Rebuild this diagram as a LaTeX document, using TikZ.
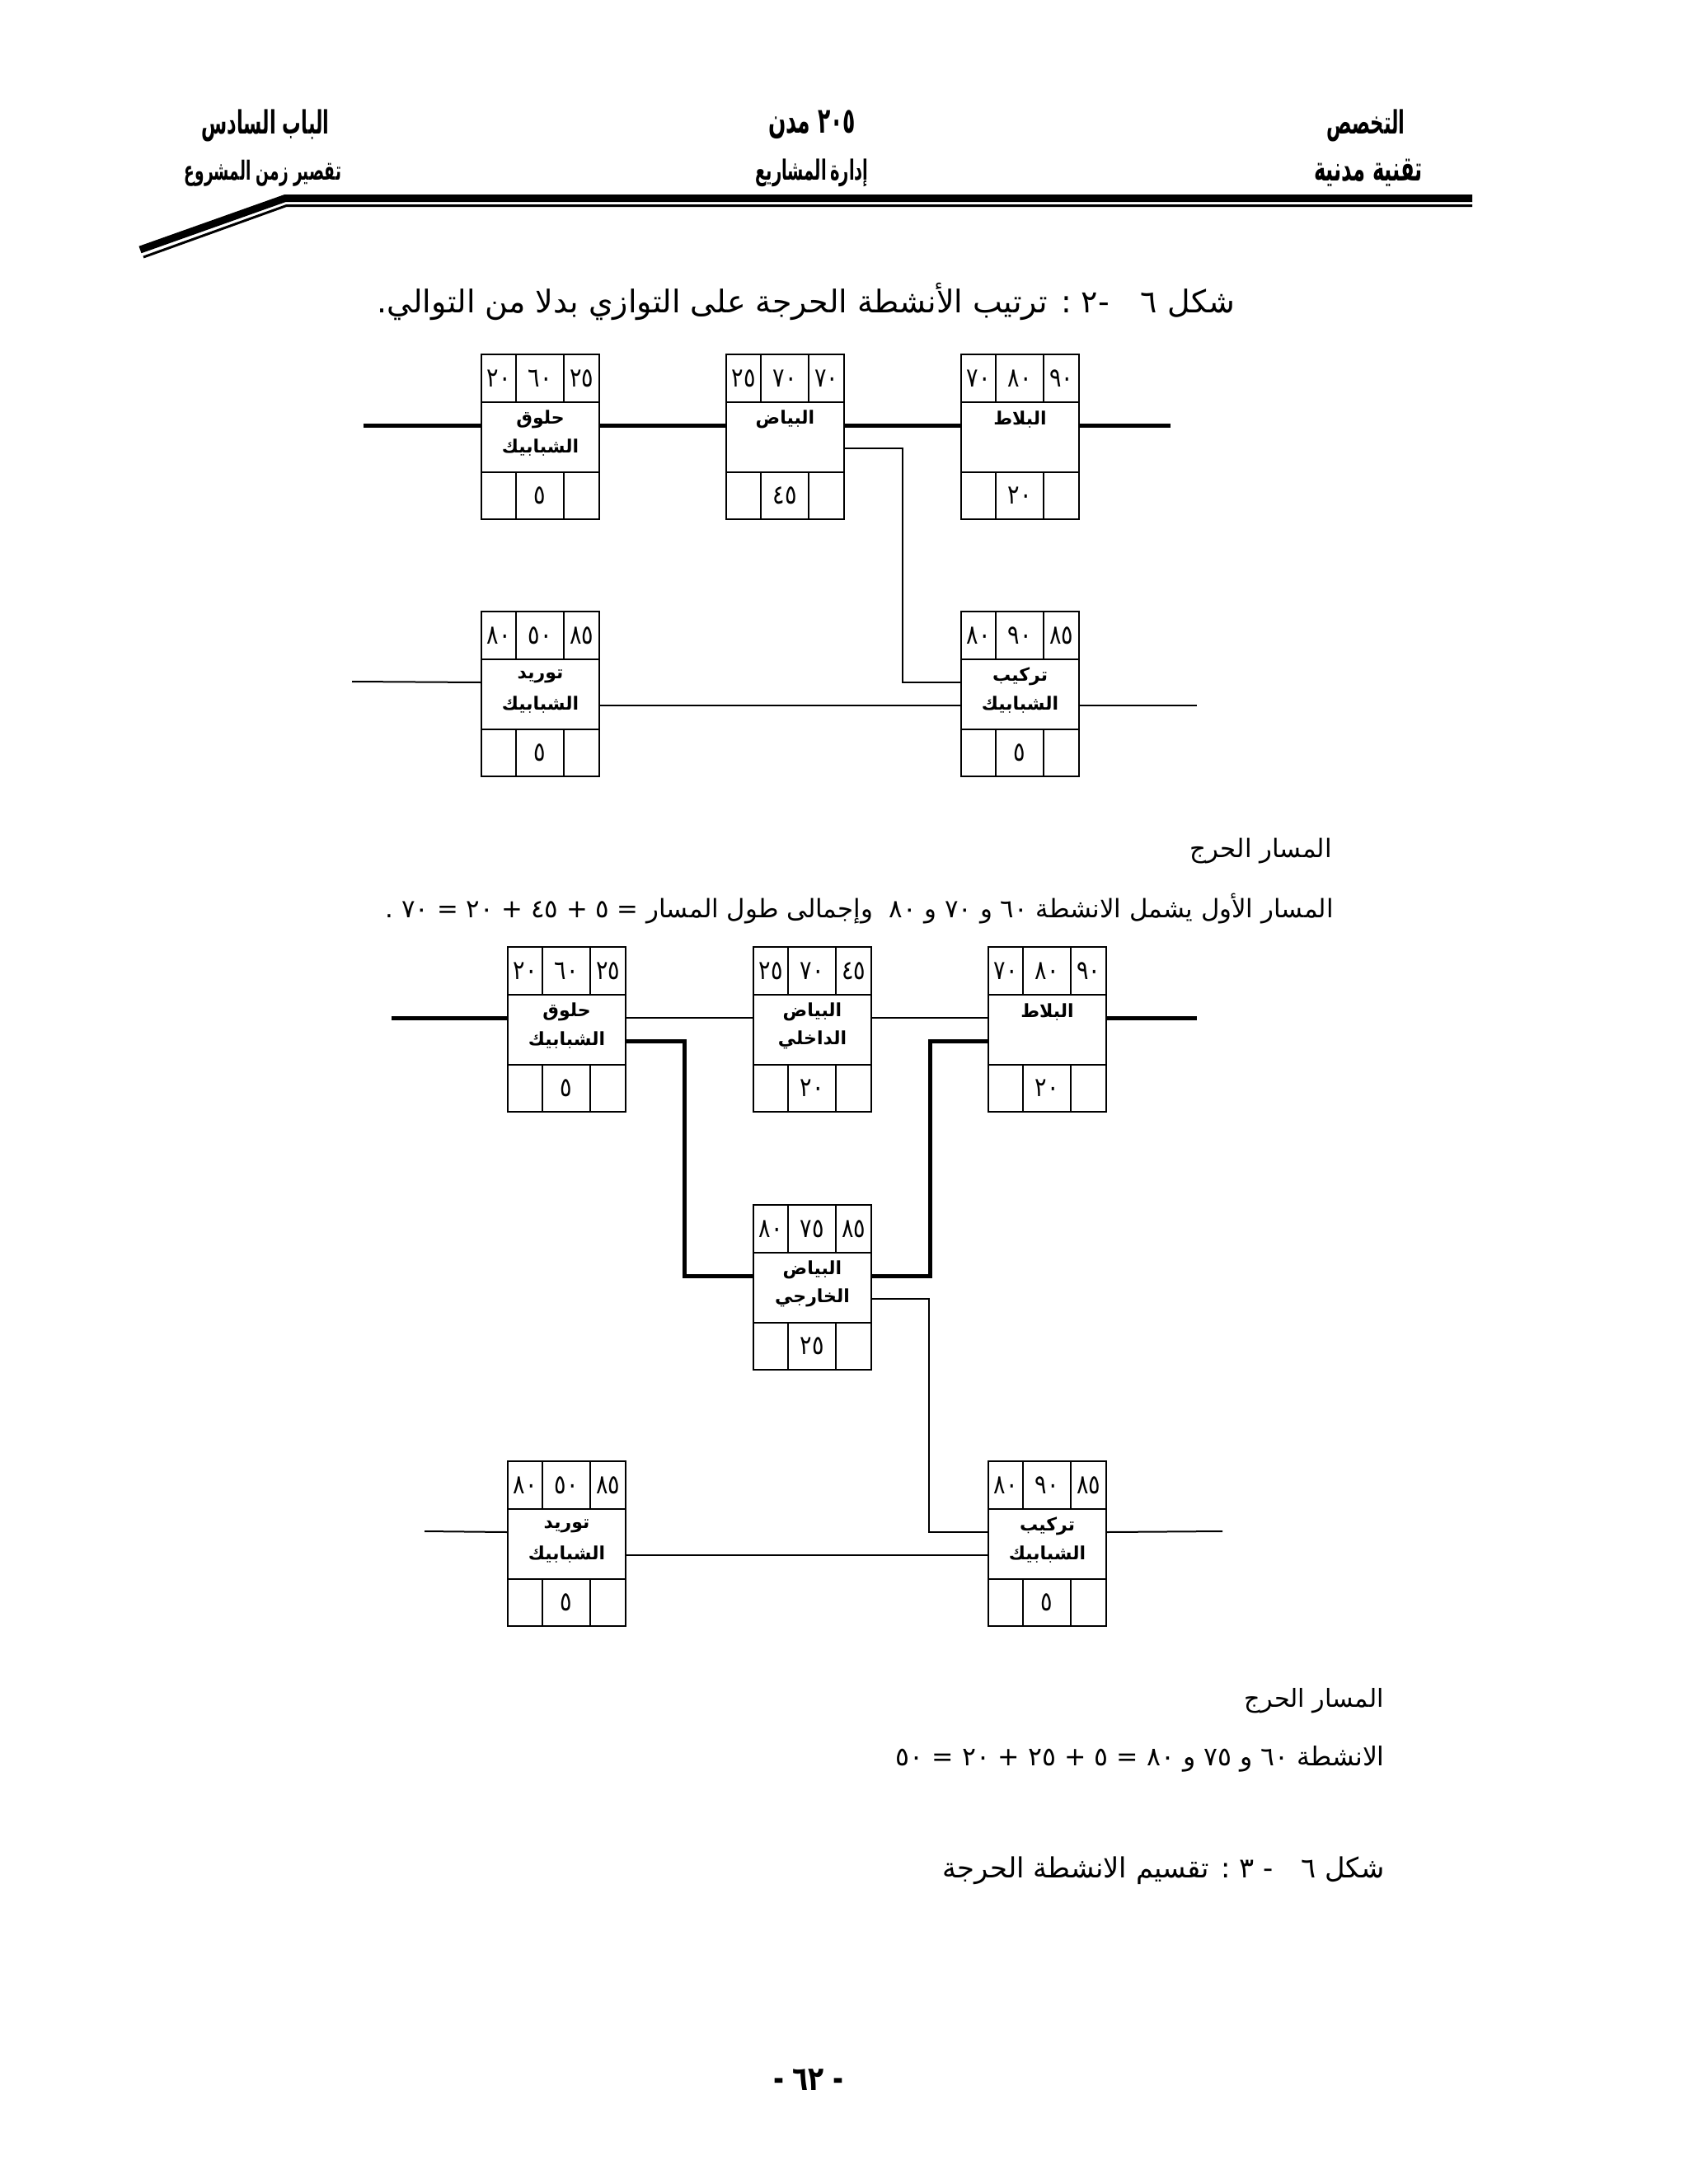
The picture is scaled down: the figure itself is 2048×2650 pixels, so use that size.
\documentclass[tikz,border=0pt]{standalone}
\usepackage{fontspec}
\usepackage{graphicx}
\TeXXeTstate=1
\newfontfamily\arab[Script=Arabic]{DejaVu Sans}
\newfontfamily\arabc[Script=Arabic]{DejaVu Sans Condensed}
\usetikzlibrary{calc}
\tikzset{
  boxline/.style={line width=2.2pt},
  thickline/.style={line width=5pt},
  thinline/.style={line width=2pt},
  cellnum/.style={inner sep=0pt, font=\arab\fontsize{27}{31}\selectfont},
  lbl/.style={inner sep=0pt, font=\arab\bfseries\fontsize{22}{26}\selectfont},
  actnode/.style={draw, boxline, minimum width=143pt, minimum height=200pt, anchor=north west, inner sep=0pt, outer sep=0pt},
  txt/.style={inner sep=0pt},
}
\newcommand\hdr[2]{\resizebox{#1}{!}{\scalebox{1}[1.55]{\arabc\bfseries #2}}}
\newcommand\cellv[1]{\scalebox{1}[1.2]{#1}}
\newcommand\actbox[9]{%
  \node[actnode] (#1) at (#2,#3) {};
  \draw[boxline] ($(#1.north west)+(0,58)$) -- ($(#1.north east)+(0,58)$);
  \draw[boxline] ($(#1.north west)+(0,143)$) -- ($(#1.north east)+(0,143)$);
  \draw[boxline] ($(#1.north west)+(42,0)$) -- ++(0,58);
  \draw[boxline] ($(#1.north west)+(100,0)$) -- ++(0,58);
  \draw[boxline] ($(#1.north west)+(42,143)$) -- ++(0,57);
  \draw[boxline] ($(#1.north west)+(100,143)$) -- ++(0,57);
  \coordinate (#1-w1) at ($(#1.north west)+(0,86)$);
  \coordinate (#1-w2) at ($(#1.north west)+(0,114)$);
  \coordinate (#1-e1) at ($(#1.north east)+(0,86)$);
  \coordinate (#1-e2) at ($(#1.north east)+(0,114)$);
  \node[cellnum] (#1-t1) at ($(#1.north west)+(21,29)$) {\cellv{#4}};
  \node[cellnum] (#1-t2) at ($(#1.north west)+(71,29)$) {\cellv{#5}};
  \node[cellnum] (#1-t3) at ($(#1.north west)+(121.5,29)$) {\cellv{#6}};
  \node[lbl] (#1-l1) at ($(#1.north west)+(71.5,79)$) {\beginR #7\endR};
  \node[lbl] (#1-l2) at ($(#1.north west)+(71.5,113)$) {\beginR #8\endR};
  \node[cellnum] (#1-b2) at ($(#1.north west)+(71,171)$) {\cellv{#9}};
}
\begin{document}
\begin{tikzpicture}[x=1pt,y=-1pt]
\useasboundingbox[fill=white] (0,0) rectangle (2048,2650);

% header
\node[txt] (h1) at (1657,152) {\hdr{95pt}{\beginR التخصص\endR}};
\node[txt] (h2) at (1660,210) {\hdr{132pt}{\beginR تقنية مدنية\endR}};
\node[txt] (h3) at (985,151) {\hdr{106pt}{\beginR ٢٠٥ مدن\endR}};
\node[txt] (h4) at (985,210) {\hdr{137pt}{\beginR إدارة\kern2pt المشاريع\endR}};
\node[txt] (h5) at (322,152) {\hdr{155pt}{\beginR الباب السادس\endR}};
\node[txt] (h6) at (319,210) {\hdr{190pt}{\beginR تقصير زمن المشروع\endR}};
\draw[line width=9pt] (170,303) -- (346,240.5) -- (1786,240.5);
\draw[line width=3pt] (174,312) -- (347.5,249.5) -- (1786,249.5);

% figure 1 title
\node[txt, anchor=east] (t1) at (1498,366) {\resizebox{1040pt}{!}{\arab\beginR شكل ٦\quad -\kern0pt ٢ : ترتيب الأنشطة الحرجة على التوازي بدلا من التوالي\kern0pt.\endR}};

% figure 1
\actbox{A1}{584}{430}{٢٠}{٦٠}{٢٥}{حلوق}{الشبابيك}{٥}
\actbox{B1}{881}{430}{٢٥}{٧٠}{٧٠}{البياض}{}{٤٥}
\actbox{C1}{1166}{430}{٧٠}{٨٠}{٩٠}{البلاط}{}{٢٠}
\actbox{D1}{584}{742}{٨٠}{٥٠}{٨٥}{توريد}{الشبابيك}{٥}
\actbox{E1}{1166}{742}{٨٠}{٩٠}{٨٥}{تركيب}{الشبابيك}{٥}
\coordinate (s1) at (441,516);
\coordinate (f1) at (1420,516);
\coordinate (s2) at (427,827);
\coordinate (f2) at (1452,856);
\draw[thickline] (s1) -- (A1-w1);
\draw[thickline] (A1-e1) -- (B1-w1);
\draw[thickline] (B1-e1) -- (C1-w1);
\draw[thickline] (C1-e1) -- (f1);
\draw[thinline] (B1-e2) -- ++(71,0) |- (E1-w1);
\draw[thinline] (s2) -- (D1-w1);
\draw[thinline] (D1-e2) -- (E1-w2);
\draw[thinline] (E1-e2) -- (f2);

\node[txt, anchor=east] (c1) at (1616,1033) {\resizebox{172pt}{!}{\arab\beginR المسار الحرج\endR}};
\node[txt, anchor=east] (c2) at (1618,1103) {\resizebox{1150pt}{!}{\arab\beginR المسار الأول يشمل الانشطة ٦٠ و ٧٠ و ٨٠ \ وإجمالى طول المسار = ٥ + ٤٥ + ٢٠ = ٧٠ .\endR}};

% figure 2
\actbox{A2}{616}{1149}{٢٠}{٦٠}{٢٥}{حلوق}{الشبابيك}{٥}
\actbox{B2}{914}{1149}{٢٥}{٧٠}{٤٥}{البياض}{الداخلي}{٢٠}
\actbox{C2}{1199}{1149}{٧٠}{٨٠}{٩٠}{البلاط}{}{٢٠}
\actbox{E2}{914}{1462}{٨٠}{٧٥}{٨٥}{البياض}{الخارجي}{٢٥}
\actbox{F2}{616}{1773}{٨٠}{٥٠}{٨٥}{توريد}{الشبابيك}{٥}
\actbox{G2}{1199}{1773}{٨٠}{٩٠}{٨٥}{تركيب}{الشبابيك}{٥}
\coordinate (s3) at (475,1235);
\coordinate (f3) at (1452,1235);
\coordinate (s4) at (515,1858);
\coordinate (f4) at (1483,1858);
\draw[thickline] (s3) -- (A2-w1);
\draw[thinline] (A2-e1) -- (B2-w1);
\draw[thinline] (B2-e1) -- (C2-w1);
\draw[thickline] (C2-e1) -- (f3);
\draw[thickline] (A2-e2) -- ++(71,0) |- (E2-w1);
\draw[thickline] (E2-e1) -- ++(71,0) |- (C2-w2);
\draw[thinline] (E2-e2) -- ++(70,0) |- (G2-w1);
\draw[thinline] (s4) -- (F2-w1);
\draw[thinline] (F2-e2) -- (G2-w2);
\draw[thinline] (G2-e1) -- (f4);

\node[txt, anchor=east] (c3) at (1679,2064) {\resizebox{169pt}{!}{\arab\beginR المسار الحرج\endR}};
\node[txt, anchor=east] (c4) at (1680,2134) {\resizebox{593pt}{!}{\arab\beginR الانشطة ٦٠ و ٧٥ و ٨٠ = ٥ + ٢٥ + ٢٠ = ٥٠\endR}};
\node[txt, anchor=east] (t2) at (1680,2270) {\resizebox{536pt}{!}{\arab\beginR شكل ٦\quad - ٣ : تقسيم الانشطة الحرجة\endR}};

% page number
\node[txt] (pg) at (981,2524) {\resizebox{86pt}{!}{\scalebox{1}[1.3]{\arab\bfseries\beginR - ٦٢ -\endR}}};
\end{tikzpicture}
\end{document}
